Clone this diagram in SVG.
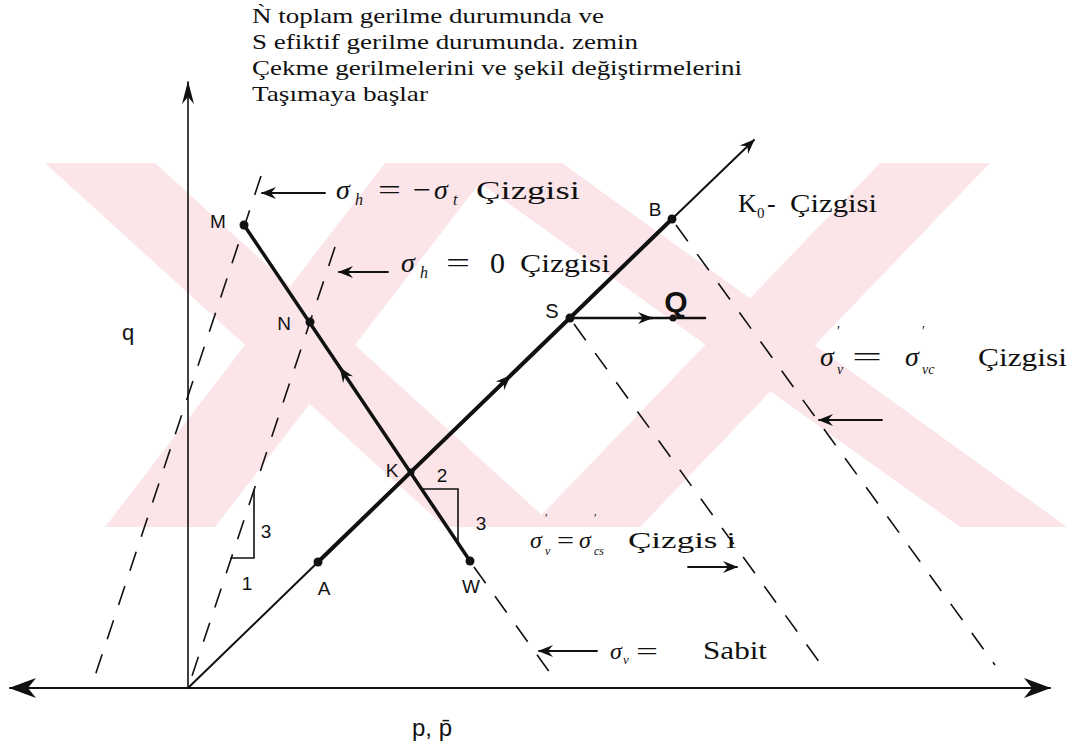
<svg xmlns="http://www.w3.org/2000/svg" width="1081" height="751" viewBox="0 0 1081 751">
<defs>
<style>
.ser{font-family:"Liberation Serif","Times New Roman",serif;fill:#111}
.it{font-style:italic}
.san{font-family:"Liberation Sans",Arial,sans-serif;fill:#111}
.ln{stroke:#111;fill:none;stroke-linecap:round}
.dash{stroke:#111;fill:none;stroke-width:1.6;stroke-dasharray:20 16}
.wm{fill:#fbe5e9}
.pt{fill:#111}
</style>
<marker id="ah" viewBox="-16 -8 18 16" refX="0" refY="0" markerWidth="18" markerHeight="16" markerUnits="userSpaceOnUse" orient="auto"><path d="M1,0 L-14,-6 L-9,0 L-14,6 Z" fill="#111"/></marker>
<marker id="ax" viewBox="-30 -12 32 24" refX="0" refY="0" markerWidth="32" markerHeight="24" markerUnits="userSpaceOnUse" orient="auto-start-reverse"><path d="M1,0 L-26,-10 L-18,0 L-26,10 Z" fill="#111"/></marker>
<marker id="ay" viewBox="-24 -8 26 16" refX="0" refY="0" markerWidth="26" markerHeight="16" markerUnits="userSpaceOnUse" orient="auto"><path d="M1,0 L-22,-6 L-15,0 L-22,6 Z" fill="#111"/></marker>
</defs>
<g id="watermark">
<polygon class="wm" points="45,163 155,163 555,527 445,527"/>
<polygon class="wm" points="105,527 215,527 495,163 385,163"/>
<polygon class="wm" points="452,163 562,163 1067,527 960,527"/>
<polygon class="wm" points="880,163 990,163 640,527 530,527"/>
</g>
<g id="axes">
<path class="ln" d="M188,688 L188,82" stroke-width="1.6" marker-end="url(#ay)"/>
<path class="ln" d="M10,688 L1050,688" stroke-width="2" marker-start="url(#ax)" marker-end="url(#ax)"/>
<text class="san" x="128" y="340" font-size="22" text-anchor="middle">q</text>
<text class="san" x="432" y="736" font-size="24" text-anchor="middle">p, p̄</text>
</g>
<g id="heading">
<text class="ser" x="252" y="23" font-size="21" textLength="352" lengthAdjust="spacingAndGlyphs">Ǹ toplam gerilme durumunda ve</text>
<text class="ser" x="252" y="49" font-size="21" textLength="386" lengthAdjust="spacingAndGlyphs">S efiktif gerilme durumunda. zemin</text>
<text class="ser" x="252" y="75" font-size="21" textLength="490" lengthAdjust="spacingAndGlyphs">Çekme gerilmelerini ve şekil değiştirmelerini</text>
<text class="ser" x="252" y="101" font-size="21" textLength="176" lengthAdjust="spacingAndGlyphs">Taşımaya başlar</text>
</g>
<g id="connectors">
<path class="dash" d="M261,176 L91,688"/>
<path class="dash" d="M335,247 L188,688"/>
<path class="dash" d="M474,567 L553,677"/>
<path class="dash" d="M574,324 L820,663"/>
<path class="dash" d="M676,225 L995,665"/>
<path class="ln" d="M188,688 L318,562" stroke-width="2"/>
<path class="ln" d="M318,562 L672,219" stroke-width="4"/>
<path class="ln" d="M672,219 L754,140" stroke-width="2" marker-end="url(#ah)"/>
<path class="ln" d="M500,385.7 L510,376" stroke-width="3" marker-end="url(#ah)"/>
<path class="ln" d="M244,225 L470,561" stroke-width="3.5"/>
<path class="ln" d="M345.8,376.3 L340.2,368" stroke-width="3" marker-end="url(#ah)"/>
<path class="ln" d="M570,318 L705,318" stroke-width="2.5"/>
<path class="ln" d="M640,318 L652,318" stroke-width="2.5" marker-end="url(#ah)"/>
<path class="ln" d="M254,490 L254,558 L231,558" stroke-width="1.6"/>
<path class="ln" d="M423,489 L458,489 L458,542" stroke-width="1.6"/>
<path class="ln" d="M325,193 L262,193" stroke-width="1.8" marker-end="url(#ah)"/>
<path class="ln" d="M388,272 L339,272" stroke-width="1.8" marker-end="url(#ah)"/>
<path class="ln" d="M882,420 L819,420" stroke-width="1.8" marker-end="url(#ah)"/>
<path class="ln" d="M688,567 L737,567" stroke-width="1.8" marker-end="url(#ah)"/>
<path class="ln" d="M597,651 L539,651" stroke-width="1.8" marker-end="url(#ah)"/>
</g>
<g id="node-M"><circle class="pt" cx="244" cy="225" r="4.5"/><text class="san" x="218" y="228" font-size="19" text-anchor="middle">M</text></g>
<g id="node-N"><circle class="pt" cx="310" cy="322" r="4.5"/><text class="san" x="284" y="330" font-size="19" text-anchor="middle">N</text></g>
<g id="node-K"><circle class="pt" cx="411" cy="472" r="3.5"/><text class="san" x="392" y="477" font-size="19" text-anchor="middle">K</text></g>
<g id="node-S"><circle class="pt" cx="570" cy="318" r="4.5"/><text class="san" x="552" y="318" font-size="20" text-anchor="middle">S</text></g>
<g id="node-B"><circle class="pt" cx="672" cy="219" r="4.5"/><text class="san" x="655" y="216" font-size="19" text-anchor="middle">B</text></g>
<g id="node-A"><circle class="pt" cx="318" cy="562" r="4.5"/><text class="san" x="324" y="595" font-size="19" text-anchor="middle">A</text></g>
<g id="node-W"><circle class="pt" cx="470" cy="561" r="4.5"/><text class="san" x="471" y="593" font-size="19" text-anchor="middle">W</text></g>
<g id="node-Q"><circle class="pt" cx="673" cy="318" r="3.5"/><text class="san" x="676" y="312" font-size="30" font-weight="bold" text-anchor="middle">Q</text></g>
<g id="slopes">
<text class="san" x="442" y="482" font-size="19" text-anchor="middle">2</text>
<text class="san" x="481" y="530" font-size="19" text-anchor="middle">3</text>
<text class="san" x="266" y="538" font-size="19" text-anchor="middle">3</text>
<text class="san" x="247" y="590" font-size="19" text-anchor="middle">1</text>
</g>
<g id="label-sh-t">
<text class="ser" font-size="28"><tspan class="it" x="336" y="199">σ</tspan><tspan class="it" x="355" y="205" font-size="16">h</tspan><tspan x="378" y="199" textLength="23" lengthAdjust="spacingAndGlyphs">=</tspan><tspan x="413" y="199" textLength="18" lengthAdjust="spacingAndGlyphs">−</tspan><tspan class="it" x="434" y="199">σ</tspan><tspan class="it" x="453" y="205" font-size="16">t</tspan><tspan x="476" y="199" font-size="26" textLength="104" lengthAdjust="spacingAndGlyphs">Çizgisi</tspan></text>
</g>
<g id="label-sh-0">
<text class="ser" font-size="28"><tspan class="it" x="401" y="272">σ</tspan><tspan class="it" x="420" y="278" font-size="16">h</tspan><tspan x="446" y="272" textLength="24" lengthAdjust="spacingAndGlyphs">=</tspan><tspan x="490" y="273" font-size="30">0</tspan><tspan x="520" y="272" font-size="26" textLength="90" lengthAdjust="spacingAndGlyphs">Çizgisi</tspan></text>
</g>
<g id="label-k0">
<text class="ser" font-size="26"><tspan x="738" y="212">K</tspan><tspan x="757" y="218" font-size="15">0</tspan><tspan x="767" y="212">-</tspan><tspan x="790" y="212" textLength="87" lengthAdjust="spacingAndGlyphs">Çizgisi</tspan></text>
</g>
<g id="label-vc">
<text class="ser" font-size="28"><tspan class="it" x="820" y="366">σ</tspan><tspan x="837" y="336" font-size="14">′</tspan><tspan class="it" x="837" y="374" font-size="14">v</tspan><tspan x="852" y="366" textLength="30" lengthAdjust="spacingAndGlyphs">=</tspan><tspan class="it" x="905" y="366">σ</tspan><tspan x="922" y="336" font-size="14">′</tspan><tspan class="it" x="922" y="374" font-size="14">vc</tspan><tspan x="978" y="366" font-size="26" textLength="89" lengthAdjust="spacingAndGlyphs">Çizgisi</tspan></text>
</g>
<g id="label-cs">
<text class="ser" font-size="24"><tspan class="it" x="530" y="548">σ</tspan><tspan x="545" y="522" font-size="12">′</tspan><tspan class="it" x="545" y="555" font-size="12">v</tspan><tspan x="557" y="548" textLength="17" lengthAdjust="spacingAndGlyphs">=</tspan><tspan class="it" x="579" y="548">σ</tspan><tspan x="594" y="522" font-size="12">′</tspan><tspan class="it" x="594" y="555" font-size="12">cs</tspan><tspan x="628" y="548" textLength="108" lengthAdjust="spacingAndGlyphs">Çizgis i</tspan></text>
</g>
<g id="label-sabit">
<text class="ser" font-size="24"><tspan class="it" x="610" y="659">σ</tspan><tspan class="it" x="623" y="664" font-size="13">v</tspan><tspan x="636" y="659" textLength="22" lengthAdjust="spacingAndGlyphs">=</tspan><tspan x="703" y="659" font-size="26" textLength="64" lengthAdjust="spacingAndGlyphs">Sabit</tspan></text>
</g>
</svg>
